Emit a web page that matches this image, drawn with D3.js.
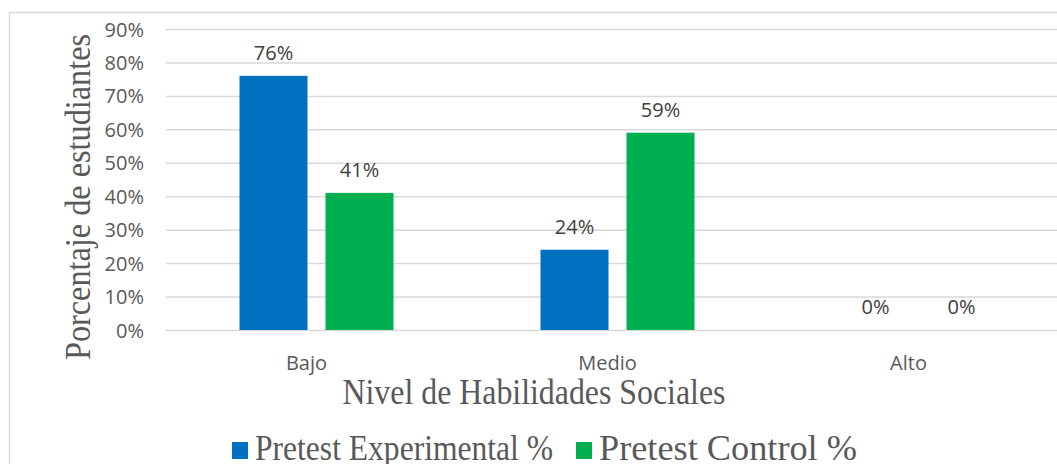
<!DOCTYPE html>
<html>
<head>
<meta charset="utf-8">
<script src="https://cdn.jsdelivr.net/npm/d3@7"></script>
<style>
  html, body { margin: 0; padding: 0; background: #fff; overflow: hidden; }
  svg { display: block; }
</style>
</head>
<body>
<svg id="chart" width="1057" height="464"></svg>
<script>
// Levels of social skills and pretest percentages per group
const categories = ["Bajo", "Medio", "Alto"];
const seriesNames = ["Pretest Experimental %", "Pretest Control %"];
const experimental = [0.76, 0.24, 0.00];
const control = [0.41, 0.59, 0.00];
const yTicks = [0, 0.1, 0.2, 0.3, 0.4, 0.5, 0.6, 0.7, 0.8, 0.9];
const colors = ["#0070C0", "#00B050"];

const svg = d3.select("#chart");
const textColor = "#595959";
const gridColor = "#d9d9d9";
const sans = "'Open Sans', 'Noto Sans', sans-serif";
const serif = "'Liberation Serif', 'Times New Roman', serif";

// Chart area frame
svg.append("rect")
  .attr("x", 9.5).attr("y", 12.5)
  .attr("width", 1100).attr("height", 500)
  .attr("fill", "none").attr("stroke", gridColor).attr("stroke-width", 1.5);

const plotLeft = 166;
const x0 = d3.scaleBand().domain(categories).range([plotLeft, plotLeft + 903]);
const x1 = d3.scaleBand().domain(seriesNames).range([0, x0.bandwidth()])
  .paddingInner(0.2093).paddingOuter(0.8547);
const y = d3.scaleLinear().domain([0, 0.9]).range([330, 29]);

// Y axis with gridlines
const yAxis = d3.axisLeft(y)
  .tickValues(yTicks)
  .tickFormat(d3.format(".0%"))
  .tickSize(-(1057 - plotLeft))
  .tickPadding(22);

const gy = svg.append("g")
  .attr("transform", `translate(${plotLeft},0)`)
  .call(yAxis);
gy.select(".domain").remove();
gy.selectAll(".tick line").attr("stroke", gridColor).attr("stroke-width", 1.5);
gy.selectAll(".tick text")
  .attr("fill", textColor)
  .attr("font-family", sans)
  .attr("font-size", 20)
  .attr("dy", null)
  .attr("y", 7);

// X axis category labels
const xAxis = d3.axisBottom(x0).tickSize(0).tickPadding(0);
const gx = svg.append("g")
  .attr("transform", `translate(-10,0)`)
  .call(xAxis);
gx.select(".domain").remove();
gx.selectAll(".tick text")
  .attr("fill", textColor)
  .attr("font-family", sans)
  .attr("font-size", 20)
  .attr("dy", null)
  .attr("y", 370);

// Bars
const rows = categories.map((c, i) => ({ cat: c, values: [experimental[i], control[i]] }));
const groups = svg.append("g").selectAll("g")
  .data(rows)
  .join("g")
  .attr("transform", d => `translate(${x0(d.cat)},0)`);

groups.selectAll("rect")
  .data(d => d.values.map((v, k) => ({ key: seriesNames[k], v, k })))
  .join("rect")
  .attr("x", d => x1(d.key))
  .attr("width", x1.bandwidth())
  .attr("y", d => y(d.v))
  .attr("height", d => y(0) - y(d.v))
  .attr("fill", d => colors[d.k]);

// Data labels
groups.selectAll("text.lbl")
  .data(d => d.values.map((v, k) => ({ key: seriesNames[k], v, k })))
  .join("text")
  .attr("class", "lbl")
  .attr("x", d => x1(d.key) + x1.bandwidth() / 2)
  .attr("y", d => y(d.v) - 16)
  .attr("text-anchor", "middle")
  .attr("fill", "#404040")
  .attr("font-family", sans)
  .attr("font-size", 20)
  .text(d => d3.format(".0%")(d.v));

// Axis titles
svg.append("text")
  .attr("transform", "translate(90,197) rotate(-90)")
  .attr("text-anchor", "middle")
  .attr("fill", textColor)
  .attr("font-family", serif)
  .attr("font-size", 36)
  .attr("textLength", 326)
  .attr("lengthAdjust", "spacingAndGlyphs")
  .text("Porcentaje de estudiantes");

svg.append("text")
  .attr("x", 534).attr("y", 404)
  .attr("text-anchor", "middle")
  .attr("fill", textColor)
  .attr("font-family", serif)
  .attr("font-size", 36)
  .attr("textLength", 383)
  .attr("lengthAdjust", "spacingAndGlyphs")
  .text("Nivel de Habilidades Sociales");

// Legend
const legendItems = [
  { name: seriesNames[0], color: colors[0], x: 232, w: 298 },
  { name: seriesNames[1], color: colors[1], x: 576, w: 258 }
];
const lg = svg.append("g").selectAll("g").data(legendItems).join("g")
  .attr("transform", d => `translate(${d.x},0)`);
lg.append("rect")
  .attr("x", 0).attr("y", 442)
  .attr("width", 16).attr("height", 17)
  .attr("fill", d => d.color);
lg.append("text")
  .attr("x", 23).attr("y", 460)
  .attr("fill", textColor)
  .attr("font-family", serif)
  .attr("font-size", 36)
  .attr("textLength", d => d.w)
  .attr("lengthAdjust", "spacingAndGlyphs")
  .text(d => d.name);
</script>
</body>
</html>
